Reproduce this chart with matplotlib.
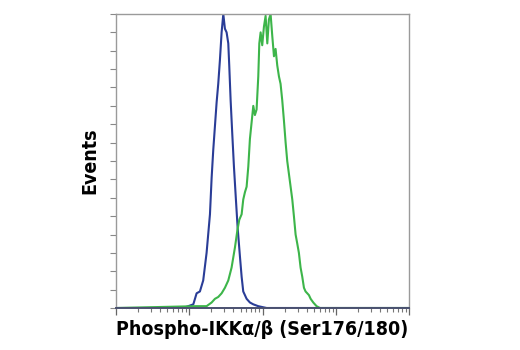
import numpy as np
import matplotlib.pyplot as plt
from matplotlib.ticker import LogLocator, MultipleLocator, NullFormatter

# ── histogram data (log10 intensity, events) ─────────────────
blue_log = [0.0, 0.918, 1.055, 1.10, 1.145, 1.19, 1.236, 1.282, 1.305, 1.327,
            1.35, 1.373, 1.395, 1.418, 1.441, 1.464, 1.486, 1.509, 1.532,
            1.545, 1.564, 1.586, 1.609, 1.636, 1.659, 1.691, 1.714, 1.736,
            1.782, 1.827, 1.873, 1.94, 2.055, 4.0]
blue_events = [0, 0, 2, 8, 9, 15, 30, 51, 71, 86,
               99, 112, 122, 135, 150, 160, 152, 150, 144,
               132, 113, 95, 77, 59, 44, 28, 17, 9,
               5, 3, 2, 1, 0, 0]

green_log = [0.0, 1.10, 1.236, 1.305, 1.35, 1.395, 1.441, 1.486, 1.532, 1.577,
             1.623, 1.655, 1.682, 1.714, 1.736, 1.759, 1.782, 1.805, 1.827,
             1.85, 1.873, 1.895, 1.918, 1.941, 1.955, 1.973, 1.995, 2.018,
             2.041, 2.064, 2.086, 2.109, 2.132, 2.155, 2.177, 2.2, 2.223,
             2.245, 2.268, 2.291, 2.314, 2.336, 2.359, 2.382, 2.405, 2.427,
             2.45, 2.473, 2.495, 2.518, 2.541, 2.564, 2.586, 2.609, 2.632,
             2.655, 2.691, 2.736, 2.782, 4.0]
green_events = [0, 1, 1, 3, 5, 6, 8, 11, 15, 22,
                33, 42, 48, 51, 59, 63, 66, 77, 92,
                101, 110, 105, 108, 126, 144, 150, 143, 153,
                159, 144, 157, 160, 148, 137, 141, 132, 126,
                122, 113, 102, 90, 80, 73, 66, 59, 50,
                40, 35, 30, 22, 17, 11, 9, 8, 7,
                5, 3, 1, 0, 0]

x_label = 'Phospho-IKKα/β (Ser176/180)'
y_label = 'Events'

plt.rcParams['font.family'] = ['DejaVu Sans']

fig = plt.figure(figsize=(5.2, 3.5), dpi=100)
ax = fig.add_axes([0.223, 0.12, 0.564, 0.84])

ax.plot(10 ** np.array(blue_log), blue_events, color='#2a3d97', lw=1.5)
ax.plot(10 ** np.array(green_log), green_events, color='#3db54a', lw=1.5)

ax.set_xscale('log')
ax.set_xlim(1, 1e4)
ax.set_ylim(0, 160)

ax.xaxis.set_major_locator(LogLocator(base=10, numticks=10))
ax.xaxis.set_minor_locator(LogLocator(base=10, subs=np.arange(2, 10), numticks=10))
ax.xaxis.set_major_formatter(NullFormatter())
ax.xaxis.set_minor_formatter(NullFormatter())
ax.yaxis.set_major_locator(MultipleLocator(10))
ax.yaxis.set_major_formatter(NullFormatter())

ax.tick_params(axis='x', which='major', direction='out', length=5, width=0.9, color='#666666')
ax.tick_params(axis='x', which='minor', direction='out', length=3, width=0.8, color='#777777')
ax.tick_params(axis='y', which='major', direction='out', length=4, width=0.8, color='#888888')

for side in ['top', 'right', 'left']:
    ax.spines[side].set_color('#9a9a9a')
    ax.spines[side].set_linewidth(1.0)
ax.spines['bottom'].set_color('#4a5070')
ax.spines['bottom'].set_linewidth(1.4)

ax.set_xlabel(x_label, fontsize=14, fontweight='bold', fontstretch='condensed')
ax.set_ylabel(y_label, fontsize=14, fontweight='bold', fontstretch='condensed')
ax.xaxis.set_label_coords(0.5, -0.04)
ax.yaxis.set_label_coords(-0.055, 0.5)

fig.savefig('out.png', dpi=100)
